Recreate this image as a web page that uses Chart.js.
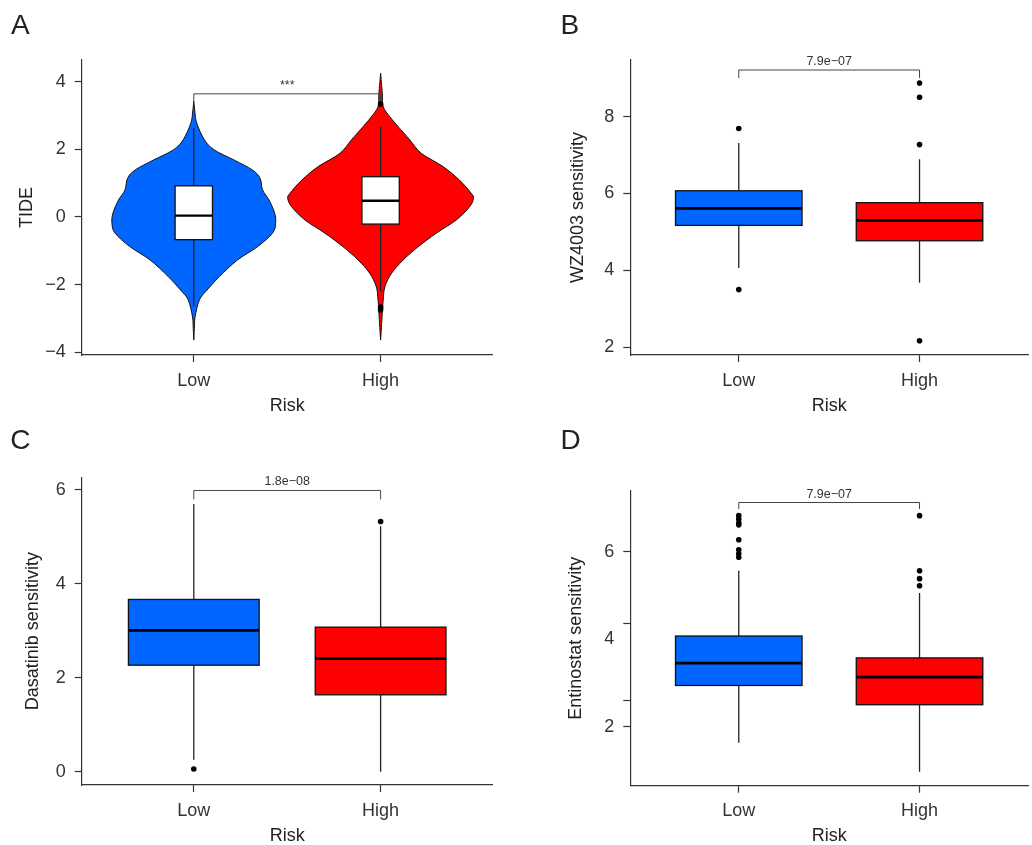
<!DOCTYPE html>
<html>
<head>
<meta charset="utf-8">
<title>TIDE and drug sensitivity by risk group</title>
<script src="https://cdn.jsdelivr.net/npm/chart.js@4.4.1/dist/chart.umd.min.js"></script>
<style>
  html, body { margin: 0; padding: 0; background: #fff; }
  #page { position: relative; width: 1032px; height: 845px; overflow: hidden; }
  .panel { position: absolute; }
  .tag { position: absolute; font-family: 'Liberation Sans', Arial, sans-serif; font-size: 28px; line-height: 1; color: #222; }
</style>
</head>
<body>
<div id="page">
  <canvas id="chartA" class="panel" width="516" height="420" style="left:0;top:0"></canvas>
  <canvas id="chartB" class="panel" width="516" height="420" style="left:516px;top:0"></canvas>
  <canvas id="chartC" class="panel" width="516" height="425" style="left:0;top:420px"></canvas>
  <canvas id="chartD" class="panel" width="516" height="425" style="left:516px;top:420px"></canvas>
  <div class="tag" style="left:11px;top:10.6px">A</div>
  <div class="tag" style="left:560.5px;top:10.6px">B</div>
  <div class="tag" style="left:10.3px;top:425.6px">C</div>
  <div class="tag" style="left:560.5px;top:425.6px">D</div>
</div>
<script>
// groups on the x axis
const categories = ['Low', 'High'];
const groupColors = ['#0066ff', '#ff0000'];

// box values: [lower whisker, Q1, median, Q3, upper whisker]

// A: TIDE (violin + box)
const tideTicks = [-4, -2, 0, 2, 4];
const tideLow = [-2.65, -0.67, 0.04, 0.92, 2.63];
const tideHigh = [-2.21, -0.21, 0.48, 1.19, 2.67];
const tideOutLow = [];
const tideOutHigh = [3.34, -2.66, -2.74];
// violin half-widths (in group units) read at these TIDE values
const tideViolinLowY = [3.42, 3.1, 2.77, 2.28, 1.98, 1.68, 1.39, 1.14, 0.80, 0.50, 0.11, -0.19, -0.48, -0.88, -1.27, -1.76, -2.16, -2.45, -2.95, -3.3, -3.64];
const tideViolinLowW = [0, 0.006, 0.016, 0.057, 0.110, 0.217, 0.314, 0.355, 0.368, 0.403, 0.433, 0.438, 0.421, 0.341, 0.234, 0.137, 0.071, 0.030, 0.007, 0.003, 0];
const tideViolinHighY = [4.25, 3.66, 3.26, 2.96, 2.67, 2.28, 1.88, 1.49, 1.09, 0.70, 0.55, 0.30, -0.09, -0.48, -0.88, -1.27, -1.66, -2.06, -2.45, -2.85, -3.64];
const tideViolinHighW = [0, 0.009, 0.014, 0.050, 0.094, 0.156, 0.218, 0.334, 0.422, 0.485, 0.497, 0.476, 0.405, 0.298, 0.201, 0.121, 0.059, 0.023, 0.014, 0.009, 0];

// B: WZ4003 sensitivity
const wzTicks = [2, 4, 6, 8];
const wzLow = [4.06, 5.17, 5.61, 6.07, 7.31];
const wzHigh = [3.68, 4.77, 5.30, 5.76, 6.89];
const wzOutLow = [7.69, 3.50];
const wzOutHigh = [8.87, 8.50, 7.27, 2.17];

// C: Dasatinib sensitivity
const dasTicks = [0, 2, 4, 6];
const dasLow = [0.26, 2.27, 3.01, 3.67, 5.70];
const dasHigh = [0.0, 1.64, 2.41, 3.08, 5.23];
const dasOutLow = [0.06];
const dasOutHigh = [5.33];

// D: Entinostat sensitivity (tick marks and labels do not line up in the original)
const entTickLabels = [2, 4, 6];
const entTickMarks = [2, 2.6, 4.35, 6];
const entLow = [1.63, 2.94, 3.45, 4.07, 5.56];
const entHigh = [0.97, 2.50, 3.13, 3.57, 5.05];
const entOutLow = [6.82, 6.74, 6.65, 6.61, 6.27, 6.04, 5.95, 5.87];
const entOutHigh = [6.82, 5.56, 5.38, 5.22];

// comparison brackets: [height, tip length] and label
const tideBracket = [3.64, 0.24];
const wzBracket = [9.21, 0.21];
const dasBracket = [5.99, 0.19];
const entBracket = [7.12, 0.15];
const tideP = '***';
const wzP = '7.9e\u221207';
const dasP = '1.8e\u221208';
const entP = '7.9e\u221207';

const FONT = "'Liberation Sans', Arial, sans-serif";

function fmt(v) {
    return v < 0 ? '\u2212' + Math.abs(v) : String(v);
}

// Catmull-Rom through pixel points
function smooth(ctx, pts, start) {
    if (start) ctx.moveTo(pts[0][0], pts[0][1]);
    else ctx.lineTo(pts[0][0], pts[0][1]);
    for (let i = 0; i < pts.length - 1; i++) {
        const p0 = pts[i - 1] || pts[i];
        const p1 = pts[i];
        const p2 = pts[i + 1];
        const p3 = pts[i + 2] || p2;
        ctx.bezierCurveTo(
            p1[0] + (p2[0] - p0[0]) / 6, p1[1] + (p2[1] - p0[1]) / 6,
            p2[0] - (p3[0] - p1[0]) / 6, p2[1] - (p3[1] - p1[1]) / 6,
            p2[0], p2[1]);
    }
}

function boxPlugin(p) {
    return {
        id: 'boxes',
        beforeDatasetsDraw(chart) {
            const { ctx, scales: { x, y } } = chart;
            ctx.save();
            p.groups.forEach((g, i) => {
                const c = i + 1;
                const cx = x.getPixelForValue(c);
                if (g.violinY) {
                    const right = g.violinY.map((v, k) => [x.getPixelForValue(c + g.violinW[k]), y.getPixelForValue(v)]);
                    const left = g.violinY.map((v, k) => [x.getPixelForValue(c - g.violinW[k]), y.getPixelForValue(v)]).reverse();
                    ctx.beginPath();
                    smooth(ctx, right, true);
                    smooth(ctx, left, false);
                    ctx.closePath();
                    ctx.fillStyle = g.color;
                    ctx.fill();
                    ctx.lineWidth = 1;
                    ctx.strokeStyle = '#111';
                    ctx.stroke();
                }
                const [lo, q1, med, q3, hi] = g.box.map(v => y.getPixelForValue(v));
                ctx.beginPath();
                ctx.moveTo(cx, lo);
                ctx.lineTo(cx, q1);
                ctx.moveTo(cx, q3);
                ctx.lineTo(cx, hi);
                ctx.lineWidth = 1.3;
                ctx.strokeStyle = '#222';
                ctx.stroke();

                const x0 = x.getPixelForValue(c - p.boxHalf);
                const x1 = x.getPixelForValue(c + p.boxHalf);
                ctx.fillStyle = p.boxFill || g.color;
                ctx.fillRect(x0, q3, x1 - x0, q1 - q3);
                ctx.lineWidth = 1.3;
                ctx.strokeStyle = '#111';
                ctx.strokeRect(x0, q3, x1 - x0, q1 - q3);
                ctx.beginPath();
                ctx.moveTo(x0, med);
                ctx.lineTo(x1, med);
                ctx.lineWidth = p.medianWidth;
                ctx.strokeStyle = '#000';
                ctx.stroke();
            });

            // significance bracket
            const bx0 = x.getPixelForValue(1);
            const bx1 = x.getPixelForValue(2);
            const by = y.getPixelForValue(p.bracket[0]);
            const bt = y.getPixelForValue(p.bracket[0] - p.bracket[1]);
            ctx.beginPath();
            ctx.moveTo(bx0, bt);
            ctx.lineTo(bx0, by);
            ctx.lineTo(bx1, by);
            ctx.lineTo(bx1, bt);
            ctx.lineWidth = 1;
            ctx.strokeStyle = '#444';
            ctx.stroke();
            ctx.fillStyle = '#333';
            ctx.font = '12.5px ' + FONT;
            ctx.textAlign = 'center';
            ctx.textBaseline = 'alphabetic';
            ctx.fillText(p.label, (bx0 + bx1) / 2, by - 5);
            ctx.restore();
        }
    };
}

function buildChart(id, p) {
    const outliers = [];
    p.groups.forEach((g, i) => g.out.forEach(v => outliers.push({ x: i + 1, y: v })));
    const marks = p.tickMarks || p.ticks;
    const labelled = p.tickLabels || p.ticks;
    const allTicks = Array.from(new Set(marks.concat(labelled))).sort((a, b) => a - b);

    return new Chart(document.getElementById(id), {
        type: 'scatter',
        data: {
            datasets: [{
                data: outliers,
                pointRadius: 2.8,
                pointBackgroundColor: '#000',
                pointBorderWidth: 0,
                clip: false
            }]
        },
        options: {
            responsive: false,
            animation: false,
            events: [],
            layout: { padding: { left: 0, top: p.top, right: p.right, bottom: 0 } },
            plugins: { legend: { display: false }, tooltip: { enabled: false } },
            scales: {
                x: {
                    type: 'linear',
                    min: 0.4,
                    max: 2.6,
                    afterBuildTicks: s => { s.ticks = categories.map((c, i) => ({ value: i + 1 })); },
                    afterFit: s => { s.height = p.xHeight; },
                    ticks: {
                        callback: v => categories[v - 1],
                        font: { family: FONT, size: 18 },
                        color: '#333',
                        padding: 8,
                        maxRotation: 0,
                        autoSkip: false
                    },
                    grid: { drawOnChartArea: false, tickLength: 7, tickColor: '#333', tickWidth: 1.2 },
                    border: { color: '#333', width: 1.2 },
                    title: {
                        display: true,
                        text: 'Risk',
                        color: '#222',
                        font: { family: FONT, size: 18, lineHeight: 1 },
                        padding: { top: 0, bottom: p.xTitlePad }
                    }
                },
                y: {
                    type: 'linear',
                    min: p.yRange[0],
                    max: p.yRange[1],
                    afterBuildTicks: s => { s.ticks = allTicks.map(v => ({ value: v })); },
                    afterFit: s => { s.width = p.yWidth; },
                    ticks: {
                        callback: v => (labelled.includes(v) ? fmt(v) : ''),
                        font: { family: FONT, size: 18 },
                        color: '#333',
                        padding: 9,
                        autoSkip: false
                    },
                    grid: {
                        drawOnChartArea: false,
                        tickLength: 7,
                        tickWidth: 1.2,
                        tickColor: c => (c.tick && marks.includes(c.tick.value) ? '#333' : 'rgba(0,0,0,0)')
                    },
                    border: { color: '#333', width: 1.2 },
                    title: {
                        display: true,
                        text: p.yTitle,
                        color: '#222',
                        font: { family: FONT, size: 18, lineHeight: 1 },
                        padding: { top: p.yTitlePad, bottom: 0 }
                    }
                }
            }
        },
        plugins: [boxPlugin(p)]
    });
}

buildChart('chartA', {
    yTitle: 'TIDE', yRange: [-4.08, 4.64], ticks: tideTicks,
    top: 60, right: 23.3, yWidth: 81.7, xHeight: 65, yTitlePad: 18, xTitlePad: 4.7,
    boxHalf: 0.1, boxFill: '#fff', medianWidth: 2.4,
    bracket: tideBracket, label: tideP,
    groups: [
        { box: tideLow, out: tideOutLow, color: groupColors[0], violinY: tideViolinLowY, violinW: tideViolinLowW },
        { box: tideHigh, out: tideOutHigh, color: groupColors[1], violinY: tideViolinHighY, violinW: tideViolinHighW }
    ]
});

buildChart('chartB', {
    yTitle: 'WZ4003 sensitivity', yRange: [1.8, 9.47], ticks: wzTicks,
    top: 60, right: 3.2, yWidth: 114.3, xHeight: 65, yTitlePad: 52.7, xTitlePad: 5,
    boxHalf: 0.35, medianWidth: 2.8,
    bracket: wzBracket, label: wzP,
    groups: [
        { box: wzLow, out: wzOutLow, color: groupColors[0] },
        { box: wzHigh, out: wzOutHigh, color: groupColors[1] }
    ]
});

buildChart('chartC', {
    yTitle: 'Dasatinib sensitivity', yRange: [-0.28, 6.27], ticks: dasTicks,
    top: 57.3, right: 23.3, yWidth: 81.7, xHeight: 60, yTitlePad: 24.5, xTitlePad: 0,
    boxHalf: 0.35, medianWidth: 2.8,
    bracket: dasBracket, label: dasP,
    groups: [
        { box: dasLow, out: dasOutLow, color: groupColors[0] },
        { box: dasHigh, out: dasOutHigh, color: groupColors[1] }
    ]
});

buildChart('chartD', {
    yTitle: 'Entinostat sensitivity', yRange: [0.65, 7.39], ticks: entTickLabels,
    tickMarks: entTickMarks, tickLabels: entTickLabels,
    top: 70.7, right: 3.2, yWidth: 114.3, xHeight: 59.3, yTitlePad: 51, xTitlePad: 0,
    boxHalf: 0.35, medianWidth: 2.8,
    bracket: entBracket, label: entP,
    groups: [
        { box: entLow, out: entOutLow, color: groupColors[0] },
        { box: entHigh, out: entOutHigh, color: groupColors[1] }
    ]
});
</script>
</body>
</html>
